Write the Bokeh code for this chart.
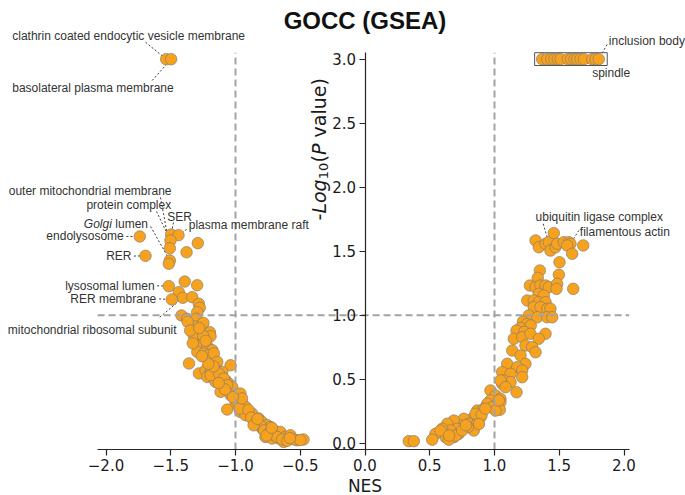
import numpy as np
from bokeh.plotting import figure
from bokeh.models import Range1d, FixedTicker, CustomJSTickFormatter
from bokeh.core.properties import value
from bokeh.embed import file_html
from bokeh.resources import INLINE

# ---------------- data ----------------
TITLE = "GOCC (GSEA)"
X_LABEL = "NES"
X_TICKS = [-2.0, -1.5, -1.0, -0.5, 0.0, 0.5, 1.0, 1.5, 2.0]
Y_TICKS = [0.0, 0.5, 1.0, 1.5, 2.0, 2.5, 3.0]
NES_CUTOFF = 1.0
LOGP_CUTOFF = 1.0

LEFT_TOP_NES = [-1.535, -1.497]
LEFT_TOP_LOGP = [3.0, 3.0]

RIGHT_TOP_NES = [1.368, 1.407, 1.438, 1.463, 1.489, 1.510, 1.566, 1.592, 1.618,
                 1.639, 1.664, 1.690, 1.754, 1.780, 1.805]
RIGHT_TOP_LOGP = [3.0, 3.0, 3.0, 3.0, 3.0, 3.0, 3.0, 3.0, 3.0,
                  3.0, 3.0, 3.0, 3.0, 3.0, 3.0]

LEFT_NES = [-1.497, -1.440, -1.502, -1.507, -1.291, -1.378, -1.507, -1.515, -1.739, -1.695,
            -1.392, -1.296, -1.515, -1.438, -1.407, -1.334, -1.492, -1.283, -1.276, -1.296,
            -1.417, -1.373, -1.301, -1.253, -1.309, -1.198, -1.193, -1.303, -1.369, -1.248,
            -1.321, -1.295, -1.256, -1.218, -1.179, -1.295, -1.244, -1.205, -1.167, -1.359,
            -1.141, -1.038, -1.282, -1.231, -1.192, -1.141, -1.102, -1.218, -1.167, -1.115,
            -1.077, -1.052, -1.154, -1.102, -1.025, -1.115, -1.038, -0.962, -1.000, -0.948,
            -0.923, -1.064, -0.962, -0.923, -0.872, -0.859, -0.821, -0.795, -0.795, -0.756,
            -0.731, -0.705, -0.769, -0.718, -0.667, -0.654, -0.615, -0.577, -0.525, -0.475,
            -0.628, -1.192, -1.128, -1.090, -1.064, -0.990, -0.970, -0.900, -0.880, -0.840,
            -0.810, -0.780, -0.740, -0.700, -0.680, -0.640, -0.600, -0.550, -0.500, -0.580,
            -0.950, -1.020, -1.080, -1.130, -1.170, -1.210, -1.260, -1.330, -1.350, -1.250,
            -1.280, -1.230, -0.860, -0.830, -0.760, -0.720]
LEFT_LOGP = [1.630, 1.625, 1.584, 1.523, 1.563, 1.492, 1.427, 1.402, 1.615, 1.464,
             1.263, 1.234, 1.227, 1.180, 1.136, 1.141, 1.123, 1.089, 1.058, 1.023,
             0.998, 0.972, 0.972, 0.933, 0.912, 0.867, 0.836, 0.836, 0.948, 0.940,
             0.836, 0.766, 0.752, 0.758, 0.727, 0.713, 0.701, 0.688, 0.701, 0.623,
             0.635, 0.609, 0.545, 0.570, 0.557, 0.570, 0.557, 0.518, 0.518, 0.505,
             0.492, 0.466, 0.479, 0.453, 0.440, 0.401, 0.375, 0.388, 0.310, 0.310,
             0.284, 0.263, 0.245, 0.219, 0.232, 0.180, 0.193, 0.166, 0.115, 0.141,
             0.127, 0.102, 0.049, 0.037, 0.037, 0.088, 0.049, 0.062, 0.023, 0.029,
             0.010, 0.531, 0.545, 0.505, 0.453, 0.330, 0.270, 0.260, 0.200, 0.160,
             0.140, 0.100, 0.080, 0.060, 0.050, 0.030, 0.020, 0.030, 0.025, 0.040,
             0.350, 0.360, 0.420, 0.470, 0.600, 0.620, 0.680, 0.780, 0.880, 0.840,
             0.900, 0.800, 0.140, 0.190, 0.060, 0.120]

RIGHT_NES = [1.317, 1.342, 1.394, 1.419, 1.458, 1.432, 1.471, 1.484, 1.535, 1.574,
             1.587, 1.561, 1.685, 1.600, 1.502, 1.350, 1.334, 1.497, 1.273, 1.317,
             1.355, 1.394, 1.419, 1.484, 1.479, 1.608, 1.342, 1.381, 1.253, 1.303,
             1.342, 1.394, 1.303, 1.355, 1.407, 1.432, 1.265, 1.330, 1.407, 1.446,
             1.220, 1.250, 1.200, 1.280, 1.170, 1.230,
             1.149, 1.214, 1.278, 1.394, 1.342, 1.239, 1.291, 1.317, 1.137, 1.201,
             1.239, 1.098, 1.175, 1.214, 1.059, 1.124, 1.214, 1.072, 1.124, 1.059,
             1.170, 0.969, 1.008, 1.046, 0.969, 1.046, 0.944, 0.982, 1.041, 0.866,
             0.917, 0.853, 0.892, 0.828, 0.763, 0.802, 0.866, 0.840, 0.737, 0.686,
             0.712, 0.635, 0.660, 0.596, 0.686, 0.622, 0.544, 0.583,
             0.338, 0.377, 0.519, 0.647, 0.724, 0.794, 0.853, 1.008, 1.033, 1.046,
             1.085, 0.700, 0.750, 0.650, 0.780, 0.900, 0.930, 0.880]
RIGHT_LOGP = [1.584, 1.531, 1.558, 1.570, 1.641, 1.505, 1.531, 1.558, 1.570, 1.570,
              1.558, 1.545, 1.545, 1.480, 1.414, 1.349, 1.292, 1.316, 1.232, 1.219,
              1.232, 1.232, 1.219, 1.245, 1.206, 1.206, 1.167, 1.154, 1.115, 1.115,
              1.102, 1.102, 1.063, 1.063, 1.050, 1.050, 0.998, 0.984, 0.984, 0.984,
              0.950, 0.930, 0.900, 0.920, 0.880, 0.870,
              0.816, 0.828, 0.855, 0.855, 0.816, 0.763, 0.750, 0.711, 0.724, 0.685,
              0.620, 0.620, 0.594, 0.568, 0.555, 0.542, 0.516, 0.490, 0.477, 0.464,
              0.398, 0.412, 0.373, 0.347, 0.334, 0.320, 0.308, 0.281, 0.261, 0.255,
              0.269, 0.217, 0.203, 0.191, 0.191, 0.152, 0.152, 0.099, 0.138, 0.177,
              0.113, 0.152, 0.099, 0.113, 0.047, 0.047, 0.073, 0.099,
              0.016, 0.016, 0.027, 0.027, 0.073, 0.125, 0.230, 0.255, 0.334, 0.490,
              0.438, 0.060, 0.100, 0.060, 0.140, 0.220, 0.270, 0.150]

# labelled terms and the points they refer to
ANNOT_TEXT = ["clathrin coated endocytic vesicle membrane", "basolateral plasma membrane",
              "outer mitochondrial membrane", "protein complex", "SER", "Golgi lumen",
              "plasma membrane raft", "endolysosome", "RER", "lysosomal lumen",
              "RER membrane", "mitochondrial ribosomal subunit",
              "inclusion body", "ubiquitin ligase complex", "filamentous actin"]
ANNOT_NES = [-1.535, -1.497, -1.507, -1.502, -1.497, -1.507, -1.440, -1.739, -1.695,
             -1.515, -1.492, -1.407, 1.805, 1.419, 1.587]
ANNOT_LOGP = [3.0, 3.0, 1.523, 1.584, 1.630, 1.427, 1.625, 1.615, 1.464,
              1.227, 1.123, 1.136, 3.0, 1.570, 1.558]
EXTRA_LABEL = "spindle"

# ---------------- layout (not data) ----------------
W, H = 685, 495
X0_PX, PX_PER_X = 364.5, 129.5     # screen x of NES = 0, px per unit
Y0_PX, PX_PER_Y = 442.7, 128.0     # screen y (from top) of logP = 0, px per unit
X_START, X_END = -X0_PX / PX_PER_X, (W - X0_PX) / PX_PER_X
Y_START, Y_END = -(H - Y0_PX) / PX_PER_Y, Y0_PX / PX_PER_Y
AX_X = (-2.065, 2.04)
AX_Y = (-0.049, 3.05)

def dx(px):
    return px / PX_PER_X

def dy(px):
    return px / PX_PER_Y

# text positions (x, y, align) and leader start points for each annotation
ANNOT_POS = [(-2.724, 3.185, "left"), (-2.724, 2.777, "left"), (-2.751, 1.969, "left"),
             (-2.151, 1.8625, "left"), (-1.527, 1.771, "left"), (-2.171, 1.714, "left"),
             (-1.361, 1.701, "left"), (-1.863, 1.617, "right"), (-1.803, 1.459, "right"),
             (-1.625, 1.232, "right"), (-1.612, 1.128, "right"), (-2.758, 0.886, "left"),
             (1.883, 3.146, "left"), (1.317, 1.771, "left"), (1.659, 1.648, "left")]
LEADER_START = [(-1.695, 3.133), (-1.643, 2.834), (-1.579, 1.920), (-1.610, 1.810),
                (-1.479, 1.724), (-1.656, 1.693), (-1.378, 1.670), (-1.842, 1.615),
                (-1.785, 1.462), (-1.605, 1.230), (-1.590, 1.127), (-1.585, 0.984),
                (1.870, 3.115), (1.376, 1.714), (1.651, 1.662)]
SPINDLE_POS = (1.754, 2.891)

p = figure(width=W, height=H, x_range=Range1d(X_START, X_END),
           y_range=Range1d(Y_START, Y_END), output_backend="svg",
           toolbar_location=None, title=None, min_border=0,
           min_border_left=0, min_border_right=0, min_border_top=0, min_border_bottom=0)
p.grid.visible = False
p.outline_line_color = None
p.background_fill_color = "white"
p.border_fill_color = "white"

fmt = CustomJSTickFormatter(code="return tick.toFixed(1).replace('-', '\\u2212');")
AXIS_COLOR = "#262626"
for ax in (p.xaxis[0], p.yaxis[0]):
    ax.formatter = fmt
    ax.major_label_text_font = "DejaVu Sans"
    ax.major_label_text_font_size = "15px"
    ax.major_label_text_color = "#1a1a1a"
    ax.axis_line_color = AXIS_COLOR
    ax.axis_line_width = 1.2
    ax.major_tick_line_color = AXIS_COLOR
    ax.major_tick_line_width = 1.2
    ax.major_tick_out = 6
    ax.major_tick_in = 0
    ax.minor_tick_out = 0
    ax.minor_tick_in = 0
    ax.major_label_standoff = 4

xa = p.xaxis[0]
xa.fixed_location = AX_Y[0]
xa.bounds = AX_X
xa.ticker = FixedTicker(ticks=X_TICKS)

ya = p.yaxis[0]
ya.fixed_location = 0.0
ya.bounds = AX_Y
ya.ticker = FixedTicker(ticks=Y_TICKS)
ya.major_label_standoff = 3

# points
all_nes = LEFT_TOP_NES + LEFT_NES + RIGHT_NES + RIGHT_TOP_NES
all_logp = LEFT_TOP_LOGP + LEFT_LOGP + RIGHT_LOGP + RIGHT_TOP_LOGP

# leader lines (under the points)
p.segment(x0=[s[0] for s in LEADER_START], y0=[s[1] for s in LEADER_START],
          x1=ANNOT_NES, y1=ANNOT_LOGP, line_color="#3d3d3d", line_width=1,
          line_dash="2 2")

p.scatter(all_nes, all_logp, marker="circle", size=11.5, fill_color="#F7A21E",
          line_color="#8a7d6a", line_width=0.7)

# threshold lines
DASH = dict(line_color="#a3a3a3", line_width=2, line_dash="7 4")
p.segment(x0=[-NES_CUTOFF, NES_CUTOFF], y0=[AX_Y[0], AX_Y[0]],
          x1=[-NES_CUTOFF, NES_CUTOFF], y1=[AX_Y[1], AX_Y[1]], **DASH)
p.segment(x0=[AX_X[0]], y0=[LOGP_CUTOFF], x1=[AX_X[1]], y1=[LOGP_CUTOFF], **DASH)

# box around the saturated cluster
p.quad(left=[min(RIGHT_TOP_NES) - dx(7.5)], right=[max(RIGHT_TOP_NES) + dx(8.5)],
       bottom=[RIGHT_TOP_LOGP[0] - dy(6.3)], top=[RIGHT_TOP_LOGP[0] + dy(6.5)],
       fill_color=None, line_color="#555555", line_width=1)

# annotation texts
TXT = dict(text_font=value("Liberation Sans"), text_font_size="12px",
           text_color="#333333", text_baseline="middle")
for t, (x, y, al) in zip(ANNOT_TEXT, ANNOT_POS):
    if t == "Golgi lumen":
        p.text(x=[x], y=[y], text=["Golgi"], text_align="left",
               text_font_style="italic", **TXT)
        p.text(x=[x + dx(31.5)], y=[y], text=["lumen"], text_align="left", **TXT)
    else:
        p.text(x=[x], y=[y], text=[t], text_align=al, **TXT)
p.text(x=[SPINDLE_POS[0]], y=[SPINDLE_POS[1]], text=[EXTRA_LABEL], text_align="left", **TXT)

# title and x label
p.text(x=[0.0], y=[(Y0_PX - 20) / PX_PER_Y], text=[TITLE], text_align="center",
       text_baseline="middle", text_font=value("Liberation Sans"),
       text_font_size="24px", text_font_style="bold", text_color="#111111")
p.text(x=[0.0], y=[(Y0_PX - 485) / PX_PER_Y], text=[X_LABEL], text_align="center",
       text_baseline="middle", text_font=value("DejaVu Sans"),
       text_font_size="17px", text_color="#1a1a1a")

# y label: -Log10(P value), rotated, built from pieces
YL_X = (318 - X0_PX) / PX_PER_X
YL_BOTTOM = (Y0_PX - 220) / PX_PER_Y
pieces = [("-", 0.0, "19px", "normal", 0.0),
          ("Log", 6.9, "19px", "italic", 0.0),
          ("10", 41.2, "13px", "normal", 5.0),
          ("(", 58.1, "19px", "normal", 0.0),
          ("P", 65.5, "19px", "italic", 0.0),
          ("value)", 83.0, "19px", "normal", 0.0)]
for txt, off, fs, st, sub in pieces:
    p.text(x=[YL_X + dx(sub)], y=[YL_BOTTOM + dy(off)], text=[txt], angle=np.pi / 2,
           text_align="left", text_baseline="middle", text_font=value("DejaVu Sans"),
           text_font_size=fs, text_font_style=st, text_color="#1a1a1a")

open("out.html", "w").write(file_html(p, INLINE))
